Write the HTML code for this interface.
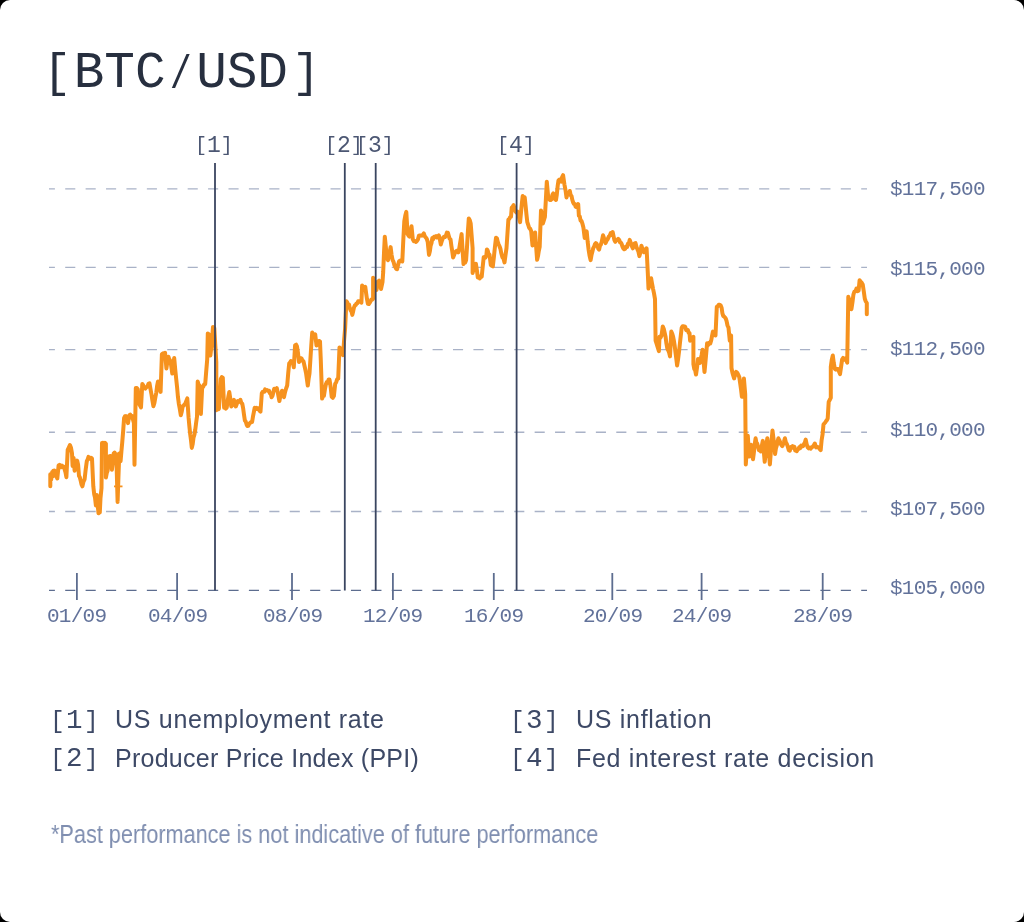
<!DOCTYPE html>
<html><head><meta charset="utf-8">
<style>
html,body{margin:0;padding:0;background:#000;}
body{width:1024px;height:922px;overflow:hidden;position:relative;}
#card{position:absolute;left:0;top:0;width:1024px;height:922px;background:#fff;border-radius:10px;overflow:hidden;}
.t{position:absolute;white-space:nowrap;line-height:1;will-change:transform;}
.br{font-size:47px;vertical-align:1px;}
.sl{display:inline-block;transform:translate(-0.5px,2px) scale(0.72,0.9);}
#title{left:43px;top:48px;font-family:"Liberation Mono",monospace;font-size:51px;color:#272f3f;}
.ev{font-family:"Liberation Mono",monospace;font-size:23px;letter-spacing:0px;color:#4c5773;}
.eb{font-size:20px;vertical-align:1px;}
.ax{font-family:"Liberation Mono",monospace;font-size:21px;letter-spacing:-0.75px;color:#62729a;}
.lb{font-family:"Liberation Mono",monospace;font-size:27.5px;letter-spacing:1.4px;color:#3d4966;}
.lbb{font-size:24.5px;}
.lg{font-family:"Liberation Sans",sans-serif;font-size:25px;letter-spacing:0.7px;color:#3d4966;}
#foot{left:51.3px;top:820.8px;font-family:"Liberation Sans",sans-serif;font-size:26px;color:#7f8eb0;transform:scaleX(0.834);transform-origin:0 0;}
svg{position:absolute;left:0;top:0;}
</style></head><body><div id="card">
<div class="t" id="title"><span class="br" style="margin-right:2.5px">[</span>BTC<span class="sl">/</span>USD<span class="br" style="margin-left:4px">]</span></div>
<svg width="1024" height="922" viewBox="0 0 1024 922">
<path d="M49.00,188.9H54.90M65.21,188.9H75.31M85.62,188.9H95.72M106.03,188.9H116.13M126.44,188.9H136.54M146.85,188.9H156.95M167.26,188.9H177.36M187.67,188.9H197.77M208.08,188.9H218.18M228.49,188.9H238.59M248.90,188.9H259.00M269.31,188.9H279.41M289.72,188.9H299.82M310.13,188.9H320.23M330.54,188.9H340.64M350.95,188.9H361.05M371.36,188.9H381.46M391.77,188.9H401.87M412.18,188.9H422.28M432.59,188.9H442.69M453.00,188.9H463.10M473.41,188.9H483.51M493.82,188.9H503.92M514.23,188.9H524.33M534.64,188.9H544.74M555.05,188.9H565.15M575.46,188.9H585.56M595.87,188.9H605.97M616.28,188.9H626.38M636.69,188.9H646.79M657.10,188.9H667.20M677.51,188.9H687.61M697.92,188.9H708.02M718.33,188.9H728.43M738.74,188.9H748.84M759.15,188.9H769.25M779.56,188.9H789.66M799.97,188.9H810.07M820.38,188.9H830.48M840.79,188.9H850.89M861.20,188.9H867.00" stroke="#a9b2c7" stroke-width="1.4" fill="none"/>
<path d="M49.00,267.4H54.90M65.21,267.4H75.31M85.62,267.4H95.72M106.03,267.4H116.13M126.44,267.4H136.54M146.85,267.4H156.95M167.26,267.4H177.36M187.67,267.4H197.77M208.08,267.4H218.18M228.49,267.4H238.59M248.90,267.4H259.00M269.31,267.4H279.41M289.72,267.4H299.82M310.13,267.4H320.23M330.54,267.4H340.64M350.95,267.4H361.05M371.36,267.4H381.46M391.77,267.4H401.87M412.18,267.4H422.28M432.59,267.4H442.69M453.00,267.4H463.10M473.41,267.4H483.51M493.82,267.4H503.92M514.23,267.4H524.33M534.64,267.4H544.74M555.05,267.4H565.15M575.46,267.4H585.56M595.87,267.4H605.97M616.28,267.4H626.38M636.69,267.4H646.79M657.10,267.4H667.20M677.51,267.4H687.61M697.92,267.4H708.02M718.33,267.4H728.43M738.74,267.4H748.84M759.15,267.4H769.25M779.56,267.4H789.66M799.97,267.4H810.07M820.38,267.4H830.48M840.79,267.4H850.89M861.20,267.4H867.00" stroke="#a9b2c7" stroke-width="1.4" fill="none"/>
<path d="M49.00,349.6H54.90M65.21,349.6H75.31M85.62,349.6H95.72M106.03,349.6H116.13M126.44,349.6H136.54M146.85,349.6H156.95M167.26,349.6H177.36M187.67,349.6H197.77M208.08,349.6H218.18M228.49,349.6H238.59M248.90,349.6H259.00M269.31,349.6H279.41M289.72,349.6H299.82M310.13,349.6H320.23M330.54,349.6H340.64M350.95,349.6H361.05M371.36,349.6H381.46M391.77,349.6H401.87M412.18,349.6H422.28M432.59,349.6H442.69M453.00,349.6H463.10M473.41,349.6H483.51M493.82,349.6H503.92M514.23,349.6H524.33M534.64,349.6H544.74M555.05,349.6H565.15M575.46,349.6H585.56M595.87,349.6H605.97M616.28,349.6H626.38M636.69,349.6H646.79M657.10,349.6H667.20M677.51,349.6H687.61M697.92,349.6H708.02M718.33,349.6H728.43M738.74,349.6H748.84M759.15,349.6H769.25M779.56,349.6H789.66M799.97,349.6H810.07M820.38,349.6H830.48M840.79,349.6H850.89M861.20,349.6H867.00" stroke="#a9b2c7" stroke-width="1.4" fill="none"/>
<path d="M49.00,432.2H54.90M65.21,432.2H75.31M85.62,432.2H95.72M106.03,432.2H116.13M126.44,432.2H136.54M146.85,432.2H156.95M167.26,432.2H177.36M187.67,432.2H197.77M208.08,432.2H218.18M228.49,432.2H238.59M248.90,432.2H259.00M269.31,432.2H279.41M289.72,432.2H299.82M310.13,432.2H320.23M330.54,432.2H340.64M350.95,432.2H361.05M371.36,432.2H381.46M391.77,432.2H401.87M412.18,432.2H422.28M432.59,432.2H442.69M453.00,432.2H463.10M473.41,432.2H483.51M493.82,432.2H503.92M514.23,432.2H524.33M534.64,432.2H544.74M555.05,432.2H565.15M575.46,432.2H585.56M595.87,432.2H605.97M616.28,432.2H626.38M636.69,432.2H646.79M657.10,432.2H667.20M677.51,432.2H687.61M697.92,432.2H708.02M718.33,432.2H728.43M738.74,432.2H748.84M759.15,432.2H769.25M779.56,432.2H789.66M799.97,432.2H810.07M820.38,432.2H830.48M840.79,432.2H850.89M861.20,432.2H867.00" stroke="#a9b2c7" stroke-width="1.4" fill="none"/>
<path d="M49.00,511.5H54.90M65.21,511.5H75.31M85.62,511.5H95.72M106.03,511.5H116.13M126.44,511.5H136.54M146.85,511.5H156.95M167.26,511.5H177.36M187.67,511.5H197.77M208.08,511.5H218.18M228.49,511.5H238.59M248.90,511.5H259.00M269.31,511.5H279.41M289.72,511.5H299.82M310.13,511.5H320.23M330.54,511.5H340.64M350.95,511.5H361.05M371.36,511.5H381.46M391.77,511.5H401.87M412.18,511.5H422.28M432.59,511.5H442.69M453.00,511.5H463.10M473.41,511.5H483.51M493.82,511.5H503.92M514.23,511.5H524.33M534.64,511.5H544.74M555.05,511.5H565.15M575.46,511.5H585.56M595.87,511.5H605.97M616.28,511.5H626.38M636.69,511.5H646.79M657.10,511.5H667.20M677.51,511.5H687.61M697.92,511.5H708.02M718.33,511.5H728.43M738.74,511.5H748.84M759.15,511.5H769.25M779.56,511.5H789.66M799.97,511.5H810.07M820.38,511.5H830.48M840.79,511.5H850.89M861.20,511.5H867.00" stroke="#a9b2c7" stroke-width="1.4" fill="none"/>
<path d="M49.00,590.4H54.90M65.21,590.4H75.31M85.62,590.4H95.72M106.03,590.4H116.13M126.44,590.4H136.54M146.85,590.4H156.95M167.26,590.4H177.36M187.67,590.4H197.77M208.08,590.4H218.18M228.49,590.4H238.59M248.90,590.4H259.00M269.31,590.4H279.41M289.72,590.4H299.82M310.13,590.4H320.23M330.54,590.4H340.64M350.95,590.4H361.05M371.36,590.4H381.46M391.77,590.4H401.87M412.18,590.4H422.28M432.59,590.4H442.69M453.00,590.4H463.10M473.41,590.4H483.51M493.82,590.4H503.92M514.23,590.4H524.33M534.64,590.4H544.74M555.05,590.4H565.15M575.46,590.4H585.56M595.87,590.4H605.97M616.28,590.4H626.38M636.69,590.4H646.79M657.10,590.4H667.20M677.51,590.4H687.61M697.92,590.4H708.02M718.33,590.4H728.43M738.74,590.4H748.84M759.15,590.4H769.25M779.56,590.4H789.66M799.97,590.4H810.07M820.38,590.4H830.48M840.79,590.4H850.89M861.20,590.4H867.00" stroke="#5d6d8f" stroke-width="1.4" fill="none"/>
<line x1="76.9" y1="573" x2="76.9" y2="600" stroke="#5d6d8f" stroke-width="1.8"/>
<line x1="177.1" y1="573" x2="177.1" y2="600" stroke="#5d6d8f" stroke-width="1.8"/>
<line x1="292" y1="573" x2="292" y2="600" stroke="#5d6d8f" stroke-width="1.8"/>
<line x1="392.9" y1="573" x2="392.9" y2="600" stroke="#5d6d8f" stroke-width="1.8"/>
<line x1="493.8" y1="573" x2="493.8" y2="600" stroke="#5d6d8f" stroke-width="1.8"/>
<line x1="612.3" y1="573" x2="612.3" y2="600" stroke="#5d6d8f" stroke-width="1.8"/>
<line x1="701.6" y1="573" x2="701.6" y2="600" stroke="#5d6d8f" stroke-width="1.8"/>
<line x1="822.7" y1="573" x2="822.7" y2="600" stroke="#5d6d8f" stroke-width="1.8"/>
<path d="M50.3,486.3 L50.3,474.2 L51.2,479.4 L52.2,472.0 L53.4,476.0 L53.4,470.7 L54.5,470.6 L55.5,471.6 L56.3,476.0 L57.3,478.5 L58.6,465.5 L59.5,464.9 L60.3,467.1 L61.2,467.2 L62.1,465.7 L62.9,467.0 L63.8,466.8 L64.7,469.8 L65.5,472.3 L66.4,477.2 L67.7,449.9 L68.8,447.5 L69.9,445.1 L71.0,447.8 L72.0,453.4 L72.6,466.0 L73.6,458.0 L74.6,470.7 L75.5,467.2 L76.3,462.7 L77.2,460.7 L78.1,464.6 L79.0,475.9 L79.8,477.2 L80.7,480.9 L81.6,484.7 L82.4,486.3 L83.5,481.6 L84.6,479.4 L85.7,469.4 L86.8,461.2 L87.7,459.4 L88.5,456.8 L89.4,458.7 L90.2,457.9 L91.1,457.8 L92.0,458.6 L93.3,486.3 L94.2,494.2 L95.0,497.6 L95.9,505.4 L96.8,495.0 L97.7,505.2 L98.5,513.2 L99.8,512.4 L100.5,498.0 L101.5,488.1 L102.0,442.9 L103.0,442.8 L104.0,444.0 L105.0,442.8 L105.9,443.8 L105.9,477.6 L106.8,472.9 L107.6,470.7 L108.5,457.7 L109.5,456.2 L110.6,456.0 L111.9,469.8 L112.8,462.6 L113.7,453.4 L114.6,452.6 L115.4,454.2 L116.3,454.2 L117.6,501.9 L118.4,478.1 L119.3,453.4 L120.6,461.2 L121.4,451.5 L122.2,442.7 L123.2,430.5 L124.1,417.9 L125.0,416.3 L125.8,416.1 L126.7,417.3 L128.0,423.1 L129.3,415.3 L130.2,414.6 L131.0,416.3 L131.9,416.0 L132.9,419.3 L133.9,423.1 L134.5,464.8 L135.8,388.0 L136.8,388.1 L137.8,389.3 L138.4,402.3 L139.3,404.3 L140.1,405.6 L141.0,407.5 L142.3,384.0 L143.3,385.4 L144.3,388.0 L145.3,388.6 L146.3,387.3 L147.4,386.6 L148.4,383.9 L149.5,383.4 L150.5,389.2 L151.5,394.5 L152.4,400.4 L153.4,406.2 L154.4,402.9 L155.4,397.1 L156.3,392.6 L157.1,386.0 L158.0,381.5 L158.9,386.5 L159.7,387.2 L160.6,391.9 L161.9,354.1 L163.0,353.4 L164.0,354.1 L165.1,352.8 L166.4,368.4 L167.4,361.4 L168.4,356.7 L169.3,359.3 L170.1,360.4 L171.0,364.5 L172.3,373.6 L173.2,366.3 L174.2,358.0 L175.2,369.3 L176.2,378.9 L177.1,387.4 L177.9,396.6 L178.8,403.6 L179.8,408.9 L180.8,415.3 L181.8,411.4 L182.7,406.2 L183.6,405.6 L184.4,404.7 L185.3,403.6 L186.3,400.9 L187.3,398.4 L188.6,417.9 L189.4,426.5 L190.2,434.3 L191.0,440.3 L191.8,447.9 L192.7,444.1 L193.5,437.8 L194.4,434.8 L195.3,429.4 L196.1,423.1 L197.0,416.6 L197.7,381.5 L198.6,385.0 L199.6,385.4 L200.9,414.0 L202.2,386.7 L203.2,386.9 L204.2,384.3 L205.2,384.2 L206.2,371.5 L207.2,359.5 L207.8,333.4 L209.1,334.7 L210.4,355.6 L211.7,343.9 L213.0,326.9 L214.3,328.2 L215.3,345.7 L216.3,362.1 L216.3,410.3 L217.2,408.3 L218.0,409.3 L218.9,409.0 L219.9,392.9 L220.8,379.0 L221.8,377.1 L222.8,377.7 L224.1,407.7 L225.0,406.3 L225.8,408.6 L226.7,407.7 L227.6,401.3 L228.4,396.4 L229.3,392.0 L230.3,398.9 L231.3,406.4 L232.2,405.4 L233.0,400.7 L233.9,399.8 L234.9,402.9 L235.8,406.4 L236.8,403.9 L237.8,401.1 L238.7,401.9 L239.5,401.3 L240.4,399.8 L241.4,403.0 L242.3,403.8 L243.2,408.7 L244.0,414.8 L244.9,420.7 L245.7,421.5 L246.6,424.5 L247.4,426.1 L248.2,425.9 L249.2,423.8 L250.1,422.9 L251.1,422.1 L252.1,422.0 L253.0,416.4 L253.8,412.4 L254.7,407.7 L255.6,408.4 L256.4,407.8 L257.3,409.0 L258.4,408.3 L259.4,410.5 L260.5,411.6 L261.8,393.3 L262.6,391.9 L263.5,391.6 L264.3,391.8 L265.1,389.4 L266.1,390.3 L267.1,390.1 L268.0,390.8 L269.0,390.7 L269.9,393.4 L270.7,393.6 L271.6,397.2 L272.5,395.7 L273.3,392.5 L274.2,388.8 L275.1,389.8 L275.9,389.3 L276.8,388.1 L277.7,392.1 L278.5,396.4 L279.4,401.1 L280.3,396.4 L281.1,394.6 L282.0,390.7 L283.0,392.5 L284.0,397.2 L285.1,391.9 L286.1,388.5 L287.2,385.5 L288.2,373.4 L289.2,363.4 L290.1,362.5 L290.9,361.1 L291.8,362.1 L292.8,363.1 L293.8,367.3 L295.1,345.2 L296.1,344.7 L297.0,346.5 L298.0,353.0 L299.0,362.1 L299.9,360.5 L300.8,358.2 L301.7,358.6 L302.6,361.1 L303.5,361.3 L304.4,365.5 L305.2,369.0 L306.1,373.4 L306.9,379.3 L307.8,385.6 L308.6,379.0 L309.5,373.4 L310.4,359.4 L311.3,345.0 L312.2,332.6 L313.2,334.3 L314.2,335.3 L315.2,334.3 L316.5,345.6 L317.4,344.4 L318.2,343.4 L319.1,341.0 L320.0,341.3 L320.8,360.4 L322.1,398.6 L323.0,396.0 L323.9,396.0 L324.9,389.4 L326.0,383.8 L326.9,382.0 L327.8,382.7 L328.6,379.5 L329.5,379.5 L330.6,386.6 L331.7,396.8 L332.8,397.8 L333.9,396.0 L335.2,383.8 L336.2,382.2 L337.2,379.2 L338.2,378.6 L339.5,347.4 L340.6,349.2 L341.7,350.8 L343.0,355.2 L344.1,340.4 L345.1,328.6 L346.4,301.3 L347.3,302.5 L348.1,305.0 L349.0,304.5 L349.8,308.3 L350.6,310.3 L351.5,311.5 L352.3,314.9 L353.2,311.2 L354.0,307.4 L354.9,305.2 L355.7,305.1 L356.5,303.4 L357.4,303.2 L358.2,301.3 L359.3,301.2 L360.3,301.3 L361.4,302.6 L362.1,285.6 L363.2,287.0 L364.2,288.0 L365.3,286.9 L366.2,293.7 L367.0,299.2 L367.9,303.9 L368.8,304.1 L369.6,302.9 L370.5,301.3 L371.4,299.5 L372.2,299.6 L373.1,298.6 L373.1,277.8 L374.1,280.6 L375.1,284.3 L376.5,290.0 L378.0,281.5 L379.0,280.7 L380.0,283.0 L381.0,289.0 L382.5,282.0 L383.2,272.0 L384.0,252.8 L384.8,236.7 L385.8,246.4 L386.7,257.5 L388.0,260.1 L388.9,255.0 L389.7,252.0 L390.6,247.1 L391.6,255.1 L392.6,260.1 L393.5,261.8 L394.4,265.1 L395.3,267.1 L396.2,268.8 L397.1,269.2 L398.1,264.9 L399.1,261.4 L400.2,260.5 L401.2,260.5 L402.3,261.4 L403.3,240.2 L404.3,221.0 L405.3,215.5 L406.3,211.9 L407.6,234.1 L408.6,235.8 L409.5,236.7 L410.5,232.8 L411.5,226.3 L412.8,239.3 L413.9,241.3 L414.9,241.0 L416.0,241.9 L417.0,240.8 L417.9,239.6 L418.9,235.7 L419.9,235.4 L420.9,235.4 L421.9,235.7 L422.8,234.8 L423.8,233.4 L424.8,236.3 L425.8,237.6 L426.7,238.7 L427.7,241.9 L429.0,254.9 L429.8,251.6 L430.6,245.9 L431.5,243.2 L432.3,238.0 L433.2,239.1 L434.0,236.8 L434.9,236.7 L435.9,236.1 L436.9,237.5 L437.8,236.4 L438.8,235.4 L439.8,238.9 L440.8,244.5 L441.9,240.7 L442.9,238.2 L444.0,236.7 L445.0,237.0 L445.9,235.7 L446.9,232.6 L447.9,232.8 L448.8,236.0 L449.6,238.7 L450.5,239.3 L451.4,245.9 L452.2,251.0 L453.1,257.5 L454.1,255.1 L455.1,252.3 L456.2,251.1 L457.2,250.7 L458.3,252.3 L459.1,249.3 L460.0,243.7 L460.8,238.7 L461.6,234.1 L462.6,250.4 L463.5,264.0 L464.4,262.5 L465.2,262.6 L466.1,260.1 L467.0,247.2 L467.9,231.4 L468.8,218.4 L469.8,220.2 L470.7,223.6 L471.6,235.2 L472.6,248.1 L472.6,272.9 L473.4,269.8 L474.2,268.6 L475.1,265.3 L475.9,263.8 L476.9,270.3 L477.8,277.4 L478.8,276.1 L479.8,278.4 L480.7,276.5 L481.7,276.8 L482.7,266.9 L483.7,257.2 L484.6,257.0 L485.4,257.6 L486.3,255.9 L486.9,249.4 L487.8,250.9 L488.6,254.2 L489.5,254.6 L490.8,265.1 L491.8,265.8 L492.8,266.4 L493.9,256.9 L494.9,247.3 L496.0,237.7 L496.9,238.3 L497.7,241.8 L498.6,244.2 L499.5,246.2 L500.4,248.7 L501.3,253.3 L502.4,257.3 L503.4,258.3 L504.5,262.4 L505.5,255.2 L506.5,248.1 L507.4,234.5 L508.4,219.5 L509.3,218.8 L510.1,217.2 L511.0,216.9 L511.7,207.8 L512.6,206.6 L513.6,205.2 L514.6,208.6 L515.6,211.7 L516.5,212.6 L517.5,211.7 L518.4,213.9 L519.2,218.8 L520.1,222.1 L521.0,212.6 L521.8,204.0 L522.7,196.0 L523.7,197.5 L524.7,197.3 L525.6,205.6 L526.4,214.0 L527.3,222.1 L528.3,225.2 L529.2,228.0 L530.2,228.7 L531.2,231.2 L532.5,245.5 L533.4,241.5 L534.2,236.9 L535.1,232.5 L536.1,246.2 L537.1,259.8 L538.0,256.1 L538.8,251.0 L539.7,246.8 L541.0,210.4 L542.0,217.0 L542.9,223.4 L543.9,220.1 L544.9,216.9 L545.8,200.7 L546.8,181.7 L548.1,196.0 L549.0,198.0 L549.8,199.9 L550.7,200.0 L551.6,199.2 L552.4,194.8 L553.3,193.4 L554.2,195.8 L555.1,199.2 L556.0,200.0 L556.8,194.6 L557.7,185.8 L558.5,180.4 L559.4,179.6 L560.2,181.1 L561.1,181.7 L562.1,177.1 L563.1,175.2 L564.4,184.3 L565.5,190.1 L566.5,197.6 L567.3,194.6 L568.1,194.8 L569.0,193.6 L569.8,191.0 L570.7,195.3 L571.5,196.0 L572.4,200.2 L573.2,202.5 L574.0,204.0 L574.8,203.9 L575.6,206.7 L576.5,207.1 L577.3,206.5 L578.2,204.1 L578.9,215.8 L579.8,216.6 L580.6,220.7 L581.5,221.0 L582.5,223.9 L583.4,227.5 L584.7,237.9 L585.7,234.6 L586.7,231.4 L587.7,242.1 L588.6,249.6 L589.6,255.9 L590.6,260.1 L591.5,255.1 L592.3,252.0 L593.2,248.3 L594.1,246.6 L594.9,244.3 L595.8,243.1 L596.6,243.8 L597.5,245.8 L598.3,248.7 L599.1,249.6 L600.0,245.5 L600.8,244.6 L601.7,241.8 L603.0,235.3 L603.9,237.7 L604.7,239.0 L605.6,243.1 L606.7,240.4 L607.7,239.2 L608.8,236.6 L609.8,235.5 L610.8,233.0 L611.7,234.8 L612.7,232.1 L613.6,236.3 L614.4,240.1 L615.3,241.8 L616.3,240.1 L617.2,240.1 L618.2,238.9 L619.2,239.9 L620.0,242.5 L620.8,242.5 L621.6,243.8 L622.4,246.4 L623.2,248.3 L624.2,249.3 L625.2,248.7 L626.1,246.6 L627.1,247.0 L628.0,243.5 L628.8,243.6 L629.7,239.9 L630.8,242.9 L631.8,246.1 L632.9,248.3 L633.8,245.3 L634.6,243.4 L635.5,243.1 L636.5,247.0 L637.5,249.4 L638.4,251.5 L639.4,256.1 L640.4,252.3 L641.4,245.7 L642.3,248.3 L643.1,251.0 L644.0,252.2 L644.9,249.6 L645.7,250.7 L646.6,248.3 L647.8,273.0 L648.5,288.6 L649.4,283.7 L650.2,282.8 L651.1,278.2 L652.0,283.3 L653.0,288.6 L654.0,293.3 L655.0,299.1 L655.6,340.7 L656.9,344.6 L657.9,348.0 L658.9,351.1 L659.5,336.8 L660.5,337.5 L661.5,335.5 L662.8,326.4 L663.8,328.9 L664.7,332.9 L665.6,336.9 L666.4,343.4 L667.3,348.5 L668.2,350.3 L669.1,352.5 L670.0,356.4 L671.3,331.6 L672.2,333.5 L673.0,336.2 L673.9,340.7 L674.7,345.9 L675.5,352.5 L676.3,358.7 L677.1,365.5 L678.1,359.1 L679.1,351.1 L680.0,342.6 L680.8,335.5 L681.7,327.7 L682.6,326.2 L683.4,326.3 L684.3,326.4 L685.2,326.8 L686.2,330.3 L687.0,330.2 L687.9,330.0 L688.7,333.0 L689.5,332.9 L690.1,340.7 L690.9,339.9 L691.8,337.8 L692.6,337.7 L693.4,336.8 L693.4,364.2 L694.3,369.1 L695.1,369.9 L696.0,374.6 L697.0,367.8 L698.0,359.0 L699.0,360.7 L699.9,362.9 L700.8,358.5 L701.6,355.2 L702.5,349.8 L703.5,360.6 L704.5,372.0 L705.4,362.5 L706.2,353.5 L707.1,343.3 L708.2,344.8 L709.2,342.8 L710.3,343.3 L711.2,340.5 L712.0,336.2 L712.9,331.6 L713.8,333.3 L714.6,333.9 L715.5,335.5 L716.8,306.9 L717.8,306.1 L718.8,304.8 L719.7,304.7 L720.7,305.6 L721.6,307.7 L722.4,313.3 L723.3,316.0 L724.1,316.5 L725.0,317.5 L725.8,318.6 L726.6,321.2 L727.5,325.5 L728.5,327.7 L729.8,340.7 L731.1,335.5 L731.5,368.0 L732.4,372.7 L733.2,375.5 L734.1,378.4 L735.1,374.5 L736.1,371.9 L737.2,372.8 L738.2,374.7 L739.3,377.1 L740.2,383.5 L741.0,389.1 L741.9,396.7 L742.9,387.4 L743.9,378.4 L745.2,394.1 L745.8,464.4 L746.8,449.3 L747.8,435.7 L749.1,456.6 L750.0,452.2 L751.0,444.8 L752.0,453.5 L753.0,459.2 L753.9,452.4 L754.7,444.4 L755.6,438.3 L756.4,442.7 L757.2,443.6 L758.1,446.7 L758.9,450.1 L759.8,449.2 L760.8,451.4 L761.8,445.8 L762.8,440.9 L763.8,451.3 L764.7,461.8 L765.6,454.0 L766.4,445.2 L767.3,438.3 L768.2,447.0 L769.0,454.1 L769.9,464.4 L770.8,452.3 L771.6,440.5 L772.5,430.5 L773.4,438.0 L774.2,444.7 L775.1,454.0 L775.9,448.5 L776.8,445.5 L777.6,441.4 L778.4,438.3 L779.4,440.5 L780.3,442.3 L781.3,445.0 L782.3,446.1 L783.2,444.0 L784.0,441.6 L784.9,438.3 L785.9,442.5 L786.8,443.8 L787.8,446.6 L788.8,450.1 L789.8,450.7 L790.8,447.0 L791.7,447.8 L792.7,446.1 L793.5,447.7 L794.4,446.9 L795.2,450.6 L796.0,450.7 L796.8,451.1 L797.6,449.5 L798.4,449.0 L799.2,447.4 L800.2,448.1 L801.2,445.6 L802.1,446.5 L803.1,446.1 L804.0,443.9 L804.8,442.8 L805.7,439.6 L806.7,444.5 L807.7,447.4 L808.7,448.4 L809.7,447.7 L810.6,448.7 L811.6,447.4 L812.7,446.7 L813.7,445.4 L814.8,443.5 L816.1,447.4 L817.0,447.1 L817.9,447.0 L818.9,447.8 L819.8,449.1 L820.7,450.1 L821.6,440.3 L822.6,434.1 L823.5,424.5 L824.3,423.5 L825.2,422.5 L826.0,421.2 L826.9,420.2 L827.7,418.4 L828.7,401.9 L829.8,399.8 L830.8,397.8 L830.8,366.8 L831.8,359.6 L832.8,355.5 L833.8,363.2 L834.9,368.9 L835.9,369.7 L837.0,368.9 L838.0,368.9 L839.0,371.6 L840.0,374.1 L841.0,367.4 L842.1,359.6 L843.1,357.9 L844.2,359.7 L845.2,358.6 L846.2,359.9 L847.2,362.7 L848.3,296.8 L849.3,299.6 L850.4,304.3 L851.4,309.2 L852.4,302.7 L853.4,294.7 L854.4,291.7 L855.5,291.3 L856.5,288.5 L857.5,291.1 L858.6,290.6 L859.6,280.3 L860.6,281.6 L861.7,282.7 L862.7,284.4 L863.8,291.5 L864.8,298.8 L865.8,301.5 L866.8,303.0 L866.8,314.3" stroke="#f6921e" stroke-width="4" fill="none" stroke-linejoin="round" stroke-linecap="round"/>
<line class="blip" x1="114" y1="486.4" x2="122.5" y2="486.4" stroke="#f6921e" stroke-width="1.8"/>
<line x1="215" y1="163" x2="215" y2="590.6" stroke="#3a4560" stroke-width="1.8"/>
<line x1="344.8" y1="163" x2="344.8" y2="590.6" stroke="#3a4560" stroke-width="1.8"/>
<line x1="375.7" y1="163" x2="375.7" y2="590.6" stroke="#3a4560" stroke-width="1.8"/>
<line x1="516.6" y1="163" x2="516.6" y2="590.6" stroke="#3a4560" stroke-width="1.8"/>
</svg>
<div class="t ev" style="left:195.2px;top:134.7px"><span class="eb">[</span>1<span class="eb">]</span></div>
<div class="t ev" style="left:325.0px;top:134.7px"><span class="eb">[</span>2<span class="eb">]</span></div>
<div class="t ev" style="left:355.9px;top:134.7px"><span class="eb">[</span>3<span class="eb">]</span></div>
<div class="t ev" style="left:496.8px;top:134.7px"><span class="eb">[</span>4<span class="eb">]</span></div>
<div class="t ax" style="left:889.5px;top:179px">$117,500</div>
<div class="t ax" style="left:889.5px;top:258.5px">$115,000</div>
<div class="t ax" style="left:889.5px;top:338.9px">$112,500</div>
<div class="t ax" style="left:889.5px;top:420px">$110,000</div>
<div class="t ax" style="left:889.5px;top:499.25px">$107,500</div>
<div class="t ax" style="left:889.5px;top:578px">$105,000</div>
<div class="t ax" style="left:47.400000000000006px;top:605.5px">01/09</div>
<div class="t ax" style="left:147.6px;top:605.5px">04/09</div>
<div class="t ax" style="left:262.5px;top:605.5px">08/09</div>
<div class="t ax" style="left:363.4px;top:605.5px">12/09</div>
<div class="t ax" style="left:464.3px;top:605.5px">16/09</div>
<div class="t ax" style="left:582.8px;top:605.5px">20/09</div>
<div class="t ax" style="left:672.1px;top:605.5px">24/09</div>
<div class="t ax" style="left:793.2px;top:605.5px">28/09</div>
<div class="t lb" style="left:50px;top:706.5px"><span class="lbb">[</span>1<span class="lbb">]</span></div>
<div class="t lg" style="left:115px;top:707px">US unemployment rate</div>
<div class="t lb" style="left:50px;top:744.8px"><span class="lbb">[</span>2<span class="lbb">]</span></div>
<div class="t lg" style="left:115px;top:745.5px;letter-spacing:0.26px">Producer Price Index (PPI)</div>
<div class="t lb" style="left:510.4px;top:706.5px"><span class="lbb">[</span>3<span class="lbb">]</span></div>
<div class="t lg" style="left:576px;top:707px">US inflation</div>
<div class="t lb" style="left:510.4px;top:744.8px"><span class="lbb">[</span>4<span class="lbb">]</span></div>
<div class="t lg" style="left:576px;top:745.5px">Fed interest rate decision</div>
<div class="t" id="foot">*Past performance is not indicative of future performance</div>
</div></body></html>
